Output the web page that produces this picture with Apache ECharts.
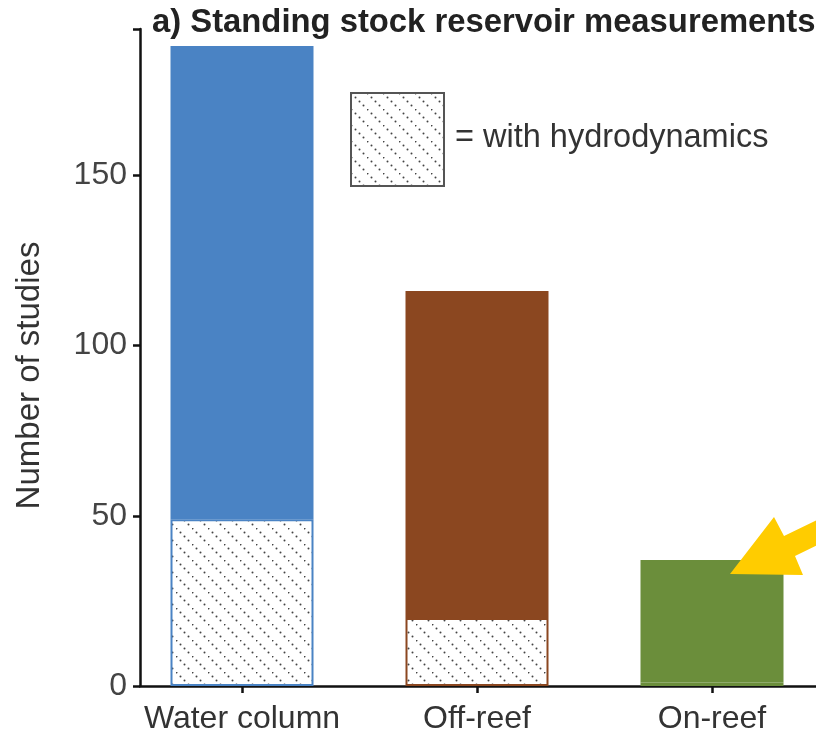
<!DOCTYPE html>
<html>
<head>
<meta charset="utf-8">
<script src="https://cdn.jsdelivr.net/npm/echarts@6/dist/echarts.min.js"></script>
<style>html,body{margin:0;padding:0;background:#fff}#c{width:816px;height:735px}</style>
</head>
<body>
<div id="c"></div>
<script>
// ---- data ----
var categories = ['Water column', 'Off-reef', 'On-reef'];
var totalStudies = [188, 116, 37];
var withHydrodynamics = [49, 20, 1];
var yTicks = [0, 50, 100, 150];
var barColors = ['#4A83C4', '#8B4720', '#6B8E3B'];
var titleText = 'a) Standing stock reservoir measurements';
var legendText = '= with hydrodynamics';
var yName = 'Number of studies';

// hatch pattern: dotted diagonal lines
function makeHatch() {
  var s = 16, c = document.createElement('canvas');
  c.width = s; c.height = s;
  var g = c.getContext('2d');
  g.fillStyle = '#ffffff'; g.fillRect(0, 0, s, s);
  g.fillStyle = '#444';
  for (var k = 0; k < s; k += 4) {
    g.beginPath(); g.arc(k + 0.5, k + 0.5, 1.0, 0, Math.PI * 2); g.fill();
  }
  return c;
}
var hatch = { image: makeHatch(), repeat: 'repeat' };

var restValues = totalStudies.map(function (t, i) { return t - withHydrodynamics[i]; });
var axisColor = '#111';
var yMax = 193;

var chart = echarts.init(document.getElementById('c'), null, { renderer: 'canvas' });
chart.setOption({
  animation: false,
  backgroundColor: '#fff',
  title: {
    text: titleText, left: 152, top: 6, padding: 0,
    textStyle: { fontFamily: 'Liberation Sans', fontWeight: 'bold', fontSize: 32.8, color: '#222' }
  },
  grid: [
    { left: 242, width: 470, top: 29, bottom: 49 },
    { left: 140, right: 0, top: 29, bottom: 49 }
  ],
  xAxis: [
    {
      gridIndex: 0, type: 'category', data: categories, boundaryGap: false,
      axisLine: { show: false },
      axisTick: { show: true, interval: 0, length: 7, lineStyle: { color: axisColor, width: 2.5 } },
      axisLabel: { interval: 0, margin: 17, fontFamily: 'Liberation Sans', fontSize: 32, color: '#333' }
    },
    {
      gridIndex: 1, type: 'value', min: 0, max: 1,
      axisLine: { show: true, lineStyle: { color: axisColor, width: 2.5 } },
      axisTick: { show: false }, axisLabel: { show: false }, splitLine: { show: false }
    }
  ],
  yAxis: [
    { gridIndex: 0, type: 'value', min: 0, max: yMax, show: false, splitLine: { show: false } },
    {
      gridIndex: 1, type: 'value', min: 0, max: yMax, interval: 50,
      axisLine: { show: true, lineStyle: { color: axisColor, width: 2.5 } },
      axisTick: { show: true, length: 7, lineStyle: { color: axisColor, width: 2.5 } },
      axisLabel: {
        margin: 13, fontFamily: 'Liberation Sans', fontSize: 32, color: '#444',
        formatter: function (v) { return yTicks.indexOf(v) >= 0 ? String(v) : ''; }
      },
      splitLine: { show: false },
      name: yName, nameLocation: 'middle', nameGap: 94,
      nameTextStyle: { fontFamily: 'Liberation Sans', fontSize: 33, color: '#333', padding: [0, 36, 0, 0] }
    }
  ],
  series: [
    {
      type: 'bar', name: 'with hydrodynamics', stack: 's', xAxisIndex: 0, yAxisIndex: 0,
      barWidth: 143, clip: false,
      data: withHydrodynamics.map(function (v, i) {
        return { value: v, itemStyle: { color: hatch, borderColor: barColors[i], borderWidth: 2 } };
      })
    },
    {
      type: 'bar', name: 'other', stack: 's', xAxisIndex: 0, yAxisIndex: 0,
      barWidth: 143, clip: false,
      data: restValues.map(function (v, i) {
        return { value: v, itemStyle: { color: barColors[i] } };
      })
    },
    { type: 'line', xAxisIndex: 1, yAxisIndex: 1, data: [], silent: true }
  ],
  graphic: [
    {
      type: 'rect', left: 350, top: 92, z: 10,
      shape: { width: 93, height: 93 },
      style: { fill: hatch, stroke: '#555', lineWidth: 2 }
    },
    {
      type: 'text', left: 455, top: 122, z: 10,
      style: { text: legendText, font: '32.5px "Liberation Sans"', fill: '#333' }
    },
    {
      type: 'polygon', z: 20,
      shape: { points: [[730, 574], [774, 517], [784, 536], [840, 509], [840, 534], [795, 556], [803, 575]] },
      style: { fill: '#FFCC00' }
    }
  ]
});
</script>
</body>
</html>
